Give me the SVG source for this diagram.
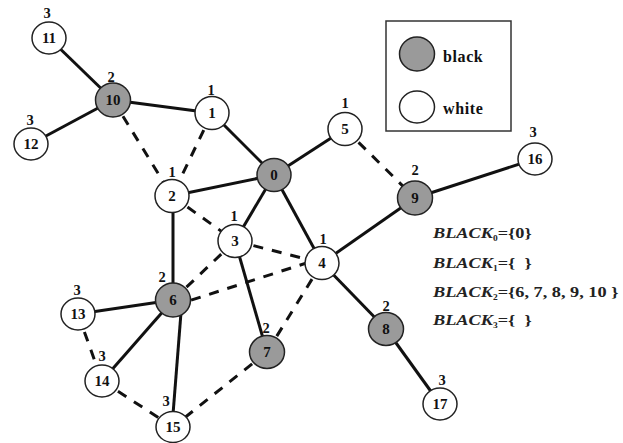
<svg xmlns="http://www.w3.org/2000/svg" width="623" height="443" viewBox="0 0 623 443">
  <style>
    .edge { stroke: #111; stroke-width: 3; fill: none; stroke-linecap: butt; }
    .dash { stroke-dasharray: 10 9; }
    .node ellipse { stroke: #222; stroke-width: 1.5; }
    .white ellipse { fill: #fff; }
    .black ellipse { fill: #9a9a9a; }
    .num { font-family: "Liberation Serif", "Times New Roman", serif; font-weight: bold; font-size: 15px; fill: #111; text-anchor: middle; }
    .lvl { font-family: "Liberation Serif", "Times New Roman", serif; font-weight: bold; font-size: 14.5px; fill: #111; text-anchor: middle; }
    .leg { font-family: "Liberation Serif", "Times New Roman", serif; font-weight: bold; font-size: 16px; fill: #111; letter-spacing: 0.6px; }
    .set { font-family: "Liberation Serif", "Times New Roman", serif; font-weight: bold; font-size: 15.5px; fill: #222; }
    .set .name { font-style: italic; }
  </style>

  <rect width="623" height="443" fill="#fff"/>

  <!-- connectors -->
  <g id="edges">
    <!-- tree edges -->
    <line class="edge" x1="49" y1="38" x2="113" y2="100"/>
    <line class="edge" x1="31" y1="144" x2="113" y2="100"/>
    <line class="edge" x1="113" y1="100" x2="212" y2="113"/>
    <line class="edge" x1="212" y1="113" x2="274" y2="175"/>
    <line class="edge" x1="172" y1="196" x2="274" y2="175"/>
    <line class="edge" x1="345" y1="129" x2="274" y2="175"/>
    <line class="edge" x1="274" y1="175" x2="235" y2="241"/>
    <line class="edge" x1="274" y1="175" x2="322" y2="263"/>
    <line class="edge" x1="173" y1="196" x2="173" y2="300"/>
    <line class="edge" x1="235" y1="241" x2="267" y2="352"/>
    <line class="edge" x1="415" y1="198" x2="535" y2="159"/>
    <line class="edge" x1="415" y1="198" x2="322" y2="263"/>
    <line class="edge" x1="322" y1="263" x2="386" y2="329"/>
    <line class="edge" x1="386" y1="329" x2="440" y2="404"/>
    <line class="edge" x1="173" y1="300" x2="78" y2="314"/>
    <line class="edge" x1="173" y1="300" x2="102" y2="381"/>
    <line class="edge" x1="182" y1="300" x2="172" y2="427"/>
    <!-- non-tree edges -->
    <line class="edge dash" x1="113" y1="100" x2="172" y2="196"/>
    <line class="edge dash" x1="212" y1="113" x2="172" y2="196"/>
    <line class="edge dash" x1="345" y1="129" x2="415" y2="198"/>
    <line class="edge dash" x1="172" y1="196" x2="235" y2="241"/>
    <line class="edge dash" x1="235" y1="241" x2="322" y2="263"/>
    <line class="edge dash" x1="235" y1="241" x2="173" y2="300"/>
    <line class="edge dash" x1="173" y1="306" x2="322" y2="258"/>
    <line class="edge dash" x1="322" y1="263" x2="267" y2="352"/>
    <line class="edge dash" x1="267" y1="352" x2="173" y2="427"/>
    <line class="edge dash" x1="102" y1="381" x2="173" y2="427"/>
    <line class="edge dash" x1="78" y1="314" x2="102" y2="381"/>
  </g>

  <!-- nodes -->
  <g id="n0" class="node black"><ellipse cx="274" cy="175" rx="17" ry="16.5"/><text class="num" x="274" y="180">0</text></g>
  <g id="n1" class="node white"><ellipse cx="212" cy="113" rx="17" ry="16.5"/><text class="num" x="212" y="118">1</text><text class="lvl" x="211" y="95">1</text></g>
  <g id="n2" class="node white"><ellipse cx="172" cy="196" rx="17" ry="16.5"/><text class="num" x="172" y="201">2</text><text class="lvl" x="172" y="177">1</text></g>
  <g id="n3" class="node white"><ellipse cx="235" cy="241" rx="17" ry="16.5"/><text class="num" x="235" y="246">3</text><text class="lvl" x="234" y="221">1</text></g>
  <g id="n4" class="node white"><ellipse cx="322" cy="263" rx="17" ry="16.5"/><text class="num" x="322" y="268">4</text><text class="lvl" x="323" y="244">1</text></g>
  <g id="n5" class="node white"><ellipse cx="345" cy="129" rx="17" ry="16.5"/><text class="num" x="345" y="134">5</text><text class="lvl" x="345" y="108">1</text></g>
  <g id="n6" class="node black"><ellipse cx="173" cy="300" rx="17.5" ry="17"/><text class="num" x="173" y="305">6</text><text class="lvl" x="162" y="282">2</text></g>
  <g id="n7" class="node black"><ellipse cx="267" cy="352" rx="17.5" ry="16.5"/><text class="num" x="267" y="357">7</text><text class="lvl" x="266" y="333">2</text></g>
  <g id="n8" class="node black"><ellipse cx="386" cy="329" rx="17.5" ry="16.5"/><text class="num" x="386" y="334">8</text><text class="lvl" x="386" y="311">2</text></g>
  <g id="n9" class="node black"><ellipse cx="415" cy="198" rx="17.5" ry="17"/><text class="num" x="415" y="203">9</text><text class="lvl" x="415" y="175">2</text></g>
  <g id="n10" class="node black"><ellipse cx="113" cy="100" rx="17.5" ry="17"/><text class="num" x="113" y="105">10</text><text class="lvl" x="111" y="82">2</text></g>
  <g id="n11" class="node white"><ellipse cx="49" cy="38" rx="17" ry="16"/><text class="num" x="49" y="43">11</text><text class="lvl" x="47" y="18">3</text></g>
  <g id="n12" class="node white"><ellipse cx="31" cy="144" rx="17" ry="16"/><text class="num" x="31" y="149">12</text><text class="lvl" x="30" y="125">3</text></g>
  <g id="n13" class="node white"><ellipse cx="78" cy="314" rx="17" ry="16"/><text class="num" x="78" y="319">13</text><text class="lvl" x="77" y="295">3</text></g>
  <g id="n14" class="node white"><ellipse cx="102" cy="381" rx="17" ry="16"/><text class="num" x="102" y="386">14</text><text class="lvl" x="102" y="361">3</text></g>
  <g id="n15" class="node white"><ellipse cx="173" cy="427" rx="17" ry="15.5"/><text class="num" x="173" y="432">15</text><text class="lvl" x="166" y="406">3</text></g>
  <g id="n16" class="node white"><ellipse cx="535" cy="159" rx="17" ry="16"/><text class="num" x="535" y="164">16</text><text class="lvl" x="533" y="137">3</text></g>
  <g id="n17" class="node white"><ellipse cx="440" cy="404" rx="17" ry="16"/><text class="num" x="440" y="409">17</text><text class="lvl" x="442" y="385">3</text></g>

  <!-- legend -->
  <g id="legend">
    <rect x="386" y="21" width="125" height="110" fill="#fff" stroke="#333" stroke-width="1.5"/>
    <g class="node black"><ellipse cx="417" cy="54" rx="17.5" ry="17"/></g>
    <text class="leg" x="443" y="62">black</text>
    <g class="node white"><ellipse cx="417" cy="107" rx="17.5" ry="16"/></g>
    <text class="leg" x="443" y="114">white</text>
  </g>

  <!-- black sets per level -->
  <g id="sets" class="set">
    <text transform="translate(433 238) scale(1.18 1)"><tspan class="name">BLACK</tspan><tspan font-size="8" dy="3">0</tspan><tspan dy="-3">={0}</tspan></text>
    <text transform="translate(433 268) scale(1.18 1)"><tspan class="name">BLACK</tspan><tspan font-size="8" dy="3">1</tspan><tspan dy="-3">={&#160;&#160;}</tspan></text>
    <text transform="translate(433 297) scale(1.18 1)"><tspan class="name">BLACK</tspan><tspan font-size="8" dy="3">2</tspan><tspan dy="-3">={6, 7, 8, 9, 10 }</tspan></text>
    <text transform="translate(433 325) scale(1.18 1)"><tspan class="name">BLACK</tspan><tspan font-size="8" dy="3">3</tspan><tspan dy="-3">={&#160;&#160;}</tspan></text>
  </g>
</svg>
